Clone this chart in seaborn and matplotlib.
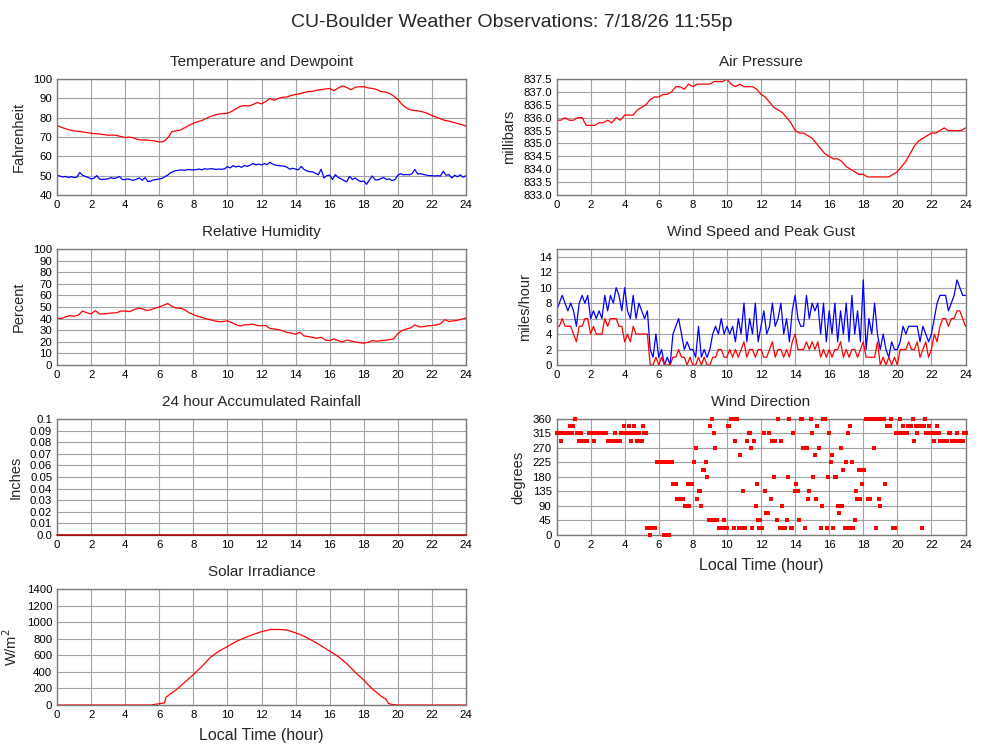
import numpy as np
import matplotlib
matplotlib.use("Agg")
import matplotlib.pyplot as plt
import seaborn as sns

# ---------------- data ----------------
hours_15 = np.linspace(0, 24, 97)    # 15-minute samples
hours_10 = np.linspace(0, 24, 145)   # 10-minute samples

temperature = [
    76.0, 75.0, 74.3, 73.6, 73.1, 73.0, 72.6, 72.3, 71.9, 71.7, 71.5, 71.2,
    70.9, 71.0, 70.8, 70.2, 69.7, 69.9, 69.5, 68.6, 68.4, 68.4, 68.2, 67.9,
    67.4, 67.6, 69.5, 72.8, 73.2, 73.6, 74.8, 76.0, 77.1, 77.9, 78.5, 79.6,
    80.6, 81.3, 81.9, 82.0, 82.3, 83.2, 84.6, 85.8, 86.2, 86.0, 86.8, 87.8,
    87.1, 88.3, 89.9, 89.0, 90.0, 90.5, 90.7, 91.5, 92.0, 92.3, 93.0, 93.5,
    93.6, 94.2, 94.5, 94.8, 95.1, 94.0, 95.3, 96.4, 95.6, 94.4, 95.7, 96.0,
    96.0, 95.4, 95.1, 94.6, 93.5, 93.3, 92.6, 91.2, 89.4, 86.8, 85.0, 84.0,
    83.7, 83.4, 82.9, 82.1, 81.1, 80.3, 79.4, 78.6, 78.2, 77.6, 77.0, 76.4,
    75.6]

dewpoint = [
    50.3, 49.8, 49.3, 49.6, 49.0, 49.5,
    49.0, 49.2, 51.6, 50.2, 49.6, 49.0,
    48.3, 48.6, 50.0, 48.2, 48.0, 48.2,
    48.3, 49.0, 48.5, 48.9, 49.5, 48.0,
    48.0, 48.3, 47.8, 47.6, 48.2, 48.8,
    47.6, 49.0, 47.0, 47.2, 47.8, 48.0,
    48.3, 48.6, 49.5, 50.3, 51.5, 52.2,
    52.6, 52.8, 53.0, 52.7, 53.2, 53.0,
    53.0, 53.1, 53.4, 53.0, 53.6, 53.3,
    53.6, 53.5, 53.2, 53.4, 53.3, 53.5,
    54.7, 54.0, 55.2, 54.5, 54.9, 54.3,
    55.2, 54.8, 55.4, 56.3, 55.6, 56.0,
    55.5, 56.2, 55.7, 56.9, 55.9, 55.4,
    55.2, 55.0, 54.9, 54.3, 53.3, 53.8,
    53.4, 53.0, 54.8, 53.2, 52.4, 52.0,
    52.0, 51.2, 50.5, 53.3, 48.8, 50.0,
    50.3, 48.0, 50.5, 49.0, 48.4, 47.5,
    46.8, 49.6, 48.0, 48.8, 47.6, 47.0,
    47.2, 45.5, 47.8, 49.8, 47.8, 47.8,
    48.5, 49.0, 48.0, 48.3, 47.4, 48.0,
    50.2, 51.0, 50.4, 50.6, 50.4, 51.0,
    53.2, 50.8, 51.0, 50.6, 50.3, 50.0,
    50.0, 49.8, 50.0, 49.8, 52.2, 50.2,
    50.5, 48.8, 50.2, 49.4, 50.4, 49.2,
    50.0]

pressure = [
    835.9, 835.9, 836.0, 835.9, 835.9, 836.0, 836.0, 835.7, 835.7, 835.7,
    835.8, 835.8, 835.9, 835.8, 836.0, 835.9, 836.1, 836.1, 836.1, 836.3,
    836.4, 836.5, 836.7, 836.8, 836.8, 836.9, 836.9, 837.0, 837.2, 837.2,
    837.1, 837.3, 837.2, 837.3, 837.3, 837.3, 837.3, 837.4, 837.4, 837.4,
    837.5, 837.3, 837.2, 837.3, 837.2, 837.2, 837.2, 837.1, 836.9, 836.8,
    836.6, 836.4, 836.3, 836.2, 836.0, 835.8, 835.5, 835.4, 835.4, 835.3,
    835.2, 835.0, 834.8, 834.6, 834.5, 834.4, 834.4, 834.3, 834.1, 834.0,
    833.9, 833.8, 833.8, 833.7, 833.7, 833.7, 833.7, 833.7, 833.7, 833.8,
    833.9, 834.1, 834.3, 834.6, 834.9, 835.1, 835.2, 835.3, 835.4, 835.4,
    835.5, 835.6, 835.5, 835.5, 835.5, 835.5, 835.6]

humidity = [
    40.3, 40.0, 41.5, 42.5, 42.0, 43.0, 46.5, 45.0, 44.0, 46.8, 44.0, 44.0,
    44.5, 44.8, 45.0, 46.5, 46.5, 46.0, 47.5, 49.0, 48.5, 47.0, 47.5, 49.0,
    50.0, 51.5, 53.0, 50.5, 49.0, 49.0, 47.5, 45.0, 43.5, 42.0, 41.0, 39.8,
    39.0, 38.0, 37.3, 37.5, 38.0, 36.5, 34.8, 33.5, 34.6, 34.8, 35.2, 34.0,
    33.8, 34.0, 31.5, 31.0, 30.5, 29.5, 28.0, 27.5, 26.5, 28.2, 25.0, 24.5,
    23.8, 23.0, 24.0, 21.5, 21.0, 22.5, 21.0, 19.8, 21.5, 20.8, 19.8, 19.2,
    18.8, 19.5, 21.0, 20.5, 21.0, 21.3, 21.8, 22.5, 27.0, 29.8, 31.0, 32.0,
    34.5, 32.8, 33.0, 33.8, 34.0, 34.5, 35.5, 39.0, 37.5, 38.0, 38.5, 39.5,
    40.5]

wind_gust = [
    7, 8, 9, 8, 7, 8, 7, 5, 8, 9, 8, 9,
    6, 7, 6, 7, 6, 9, 7, 9, 8, 10, 9, 7,
    10, 7, 6, 9, 6, 8, 7, 6, 7, 2, 1, 4,
    1, 2, 0, 1, 0, 4, 5, 6, 4, 2, 3, 2,
    2, 1, 5, 1, 2, 1, 2, 4, 5, 4, 6, 4,
    5, 4, 5, 3, 6, 4, 8, 3, 6, 4, 8, 3,
    5, 7, 4, 5, 8, 5, 6, 8, 4, 6, 3, 7,
    9, 6, 5, 5, 9, 6, 8, 7, 8, 4, 8, 3,
    7, 4, 8, 3, 7, 4, 8, 3, 9, 4, 7, 3,
    11, 2, 6, 4, 8, 4, 2, 4, 2, 1, 3, 2,
    2, 3, 5, 4, 5, 5, 5, 5, 3, 5, 4, 3,
    4, 6, 8, 9, 9, 9, 7, 8, 9, 11, 10, 9,
    9]

wind_speed = [
    5, 5, 6, 5, 5, 5, 4, 3, 5, 5, 6, 6,
    4, 5, 4, 4, 4, 6, 5, 6, 6, 6, 5, 5,
    3, 4, 3, 5, 4, 4, 4, 4, 4, 0, 0, 1,
    0, 1, 0, 0, 0, 1, 1, 2, 1, 1, 0, 1,
    0, 0, 1, 0, 1, 0, 0, 1, 1, 2, 2, 1,
    1, 2, 1, 2, 1, 2, 3, 1, 2, 2, 1, 2,
    2, 1, 1, 2, 3, 1, 2, 2, 1, 2, 1, 3,
    4, 2, 2, 2, 3, 2, 3, 2, 3, 1, 2, 1,
    2, 1, 2, 2, 3, 1, 2, 1, 2, 2, 1, 2,
    3, 1, 1, 1, 1, 3, 0, 1, 0, 1, 0, 1,
    0, 2, 2, 2, 3, 2, 2, 3, 1, 2, 3, 1,
    2, 4, 3, 5, 6, 6, 5, 6, 6, 7, 7, 6,
    5]

rain_hours = [0, 6, 12, 18, 24]
rain_inches = [0.0, 0.0, 0.0, 0.0, 0.0]

solar_hours = [0, 5.5, 6.0, 6.3, 6.4, 7.0, 7.5, 8.0, 8.5, 9.0, 9.5, 10.0,
               10.5, 11.0, 11.5, 12.0, 12.5, 13.0, 13.5, 14.0, 14.5, 15.0,
               15.5, 16.0, 16.5, 17.0, 17.5, 18.0, 18.5, 19.0, 19.3, 19.45,
               19.6, 20.0, 24.0]
solar_wm2 = [0, 0, 15, 25, 95, 185, 275, 365, 465, 575, 650, 705,
             765, 810, 850, 885, 910, 912, 905, 870, 830, 775,
             715, 650, 585, 500, 395, 300, 195, 110, 70, 20,
             8, 0, 0]

wdir_hours = [
    0.0, 0.08, 0.17, 0.27, 0.35, 0.45, 0.55, 0.65, 0.72, 0.82, 0.9, 0.98,
    1.1, 1.2, 1.3, 1.38, 1.45, 1.52, 1.6, 1.7, 1.8, 1.88, 1.97, 2.05, 2.13,
    2.22, 2.3, 2.4, 2.5, 2.6, 2.7, 2.8, 2.9, 3.0, 3.08, 3.17, 3.25, 3.35,
    3.46, 3.55, 3.63, 3.72, 3.8, 3.88, 3.95, 4.05, 4.12, 4.2, 4.28, 4.35,
    4.45, 4.52, 4.6, 4.7, 4.78, 4.85, 4.92, 5.0, 5.08, 5.15, 5.23, 5.32,
    5.4, 5.48, 5.55, 5.63, 5.72, 5.8, 5.9, 5.98, 6.07, 6.15, 6.23, 6.3,
    6.38, 6.45, 6.52, 6.6, 6.68, 6.75, 6.85, 6.93, 7.0, 7.1, 7.18, 7.27,
    7.35, 7.45, 7.53, 7.6, 7.7, 7.8, 7.87, 7.95, 8.06, 8.16, 8.25, 8.35,
    8.42, 8.5, 8.57, 8.65, 8.75, 8.85, 8.95, 9.02, 9.1, 9.2, 9.26, 9.33,
    9.43, 9.53, 9.6, 9.68, 9.75, 9.82, 9.92, 10.0, 10.07, 10.15, 10.25,
    10.33, 10.42, 10.5, 10.57, 10.7, 10.76, 10.85, 10.92, 11.0, 11.08,
    11.17, 11.27, 11.35, 11.43, 11.5, 11.6, 11.68, 11.75, 11.83, 11.9,
    11.97, 12.05, 12.17, 12.23, 12.3, 12.4, 12.45, 12.56, 12.66, 12.76,
    12.83, 12.92, 13.0, 13.1, 13.18, 13.25, 13.35, 13.43, 13.5, 13.58,
    13.66, 13.75, 13.83, 13.9, 13.97, 14.05, 14.1, 14.19, 14.25, 14.33,
    14.42, 14.48, 14.56, 14.68, 14.76, 14.83, 14.91, 15.0, 15.07, 15.15,
    15.22, 15.3, 15.4, 15.5, 15.58, 15.66, 15.73, 15.85, 15.93, 16.0,
    16.1, 16.18, 16.25, 16.32, 16.4, 16.5, 16.56, 16.6, 16.67, 16.74,
    16.83, 16.9, 16.99, 17.1, 17.16, 17.22, 17.32, 17.42, 17.5, 17.57,
    17.65, 17.73, 17.8, 17.88, 17.95, 18.03, 18.14, 18.22, 18.3, 18.38,
    18.47, 18.55, 18.63, 18.73, 18.8, 18.9, 18.98, 19.05, 19.13, 19.22,
    19.3, 19.4, 19.48, 19.55, 19.65, 19.72, 19.8, 19.88, 19.95, 20.03,
    20.1, 20.15, 20.25, 20.33, 20.4, 20.48, 20.56, 20.64, 20.72, 20.8,
    20.9, 20.98, 21.08, 21.17, 21.25, 21.33, 21.4, 21.47, 21.55, 21.6,
    21.68, 21.76, 21.86, 21.95, 22.05, 22.15, 22.22, 22.3, 22.38, 22.45,
    22.52, 22.6, 22.68, 22.76, 22.85, 22.93, 23.02, 23.1, 23.18, 23.26,
    23.35, 23.42, 23.5, 23.58, 23.66, 23.75, 23.83, 23.92, 24.0]
wdir_deg = [
    315, 315, 315, 292.5, 315, 315, 315, 315, 315, 337.5, 315, 337.5,
    360, 315, 292.5, 292.5, 315, 292.5, 292.5, 292.5, 292.5, 315, 315, 315, 315,
    292.5, 315, 315, 315, 315, 315, 315, 315, 292.5, 292.5, 292.5, 292.5, 292.5,
    315, 292.5, 292.5, 292.5, 315, 315, 337.5, 315, 315, 315, 337.5, 292.5,
    315, 337.5, 315, 292.5, 292.5, 315, 292.5, 292.5, 337.5, 315, 315, 22.5,
    22.5, 0, 22.5, 22.5, 22.5, 22.5, 225, 225, 225, 225, 225, 0,
    225, 0, 225, 0, 225, 225, 157.5, 157.5, 157.5, 112.5, 112.5, 112.5,
    112.5, 112.5, 90, 90, 157.5, 90, 157.5, 157.5, 225, 270, 112.5, 135,
    135, 90, 202.5, 202.5, 225, 180, 45, 337.5, 360, 45, 315, 270,
    45, 22.5, 22.5, 22.5, 22.5, 45, 22.5, 22.5, 337.5, 337.5, 360,
    360, 22.5, 292.5, 360, 22.5, 247.5, 22.5, 135, 22.5, 22.5,
    292.5, 315, 315, 270, 22.5, 292.5, 90, 157.5, 45, 22.5,
    45, 22.5, 315, 135, 67.5, 67.5, 315, 112.5, 292.5, 180,
    292.5, 45, 360, 22.5, 292.5, 90, 22.5, 22.5, 45, 180,
    360, 22.5, 22.5, 315, 135, 157.5, 135, 135, 45, 360,
    360, 270, 22.5, 270, 112.5, 135, 360, 315, 180, 247.5,
    112.5, 337.5, 270, 22.5, 90, 360, 360, 22.5, 180, 315,
    225, 247.5, 22.5, 180, 180, 90, 90, 67.5, 270, 90,
    202.5, 22.5, 225, 315, 22.5, 337.5, 225, 22.5, 45, 135,
    112.5, 202.5, 112.5, 202.5, 157.5, 202.5, 360, 360, 112.5, 112.5,
    360, 360, 270, 22.5, 360, 112.5, 90, 360, 360, 360,
    157.5, 337.5, 337.5, 337.5, 360, 22.5, 22.5, 22.5, 315, 315,
    315, 360, 315, 337.5, 315, 315, 315, 337.5, 337.5, 337.5,
    360, 292.5, 337.5, 315, 337.5, 337.5, 337.5, 22.5, 337.5, 360,
    315, 315, 337.5, 315, 315, 292.5, 315, 337.5, 315, 315,
    292.5, 292.5, 292.5, 292.5, 292.5, 292.5, 315, 315, 292.5, 292.5,
    292.5, 292.5, 315, 292.5, 292.5, 292.5, 292.5, 315, 315]

hour_ticks = list(range(0, 25, 2))

# ---------------- styling ----------------
sns.set_theme(style="white")
plt.rcParams["font.family"] = ["Liberation Sans", "DejaVu Sans"]

RED = "#ff0000"
BLUE = "#0000ff"
GRID = "#a3a3a3"
SPINE = "#7a7a7a"

fig = plt.figure(figsize=(10, 7.45), dpi=100)

LEFT_X, RIGHT_X, W, H = 0.057, 0.5565, 0.409, 0.1557
BOTTOMS = [0.7383, 0.5101, 0.2819, 0.0537]


def make_ax(col, row):
    x0 = LEFT_X if col == 0 else RIGHT_X
    return fig.add_axes([x0, BOTTOMS[row], W, H])


def style(ax, title, ylabel, ylim, yticks, ylabels=None, xlabel=None):
    ax.set_xlim(0, 24)
    ax.set_xticks(hour_ticks)
    ax.set_xticklabels([str(h) for h in hour_ticks])
    ax.set_ylim(*ylim)
    ax.set_yticks(yticks)
    if ylabels is not None:
        ax.set_yticklabels(ylabels)
    ax.grid(True, color=GRID, lw=0.8)
    ax.set_axisbelow(True)
    ax.tick_params(length=0, pad=3.5, labelsize=8.2, colors="black")
    for s in ax.spines.values():
        s.set_color(SPINE)
        s.set_linewidth(1.0)
        s.set_visible(True)
    ax.set_title(title, fontsize=11, pad=9.5)
    ax.set_ylabel(ylabel, fontsize=10.5, labelpad=5)
    ax.set_xlabel(xlabel if xlabel else "", fontsize=11.5, labelpad=6)


LW = 0.9

# Temperature and Dewpoint
ax = make_ax(0, 0)
sns.lineplot(x=hours_15, y=temperature, ax=ax, color=RED, lw=LW, estimator=None)
sns.lineplot(x=hours_10, y=dewpoint, ax=ax, color=BLUE, lw=LW, estimator=None)
style(ax, "Temperature and Dewpoint", "Fahrenheit", (40, 100), list(range(40, 101, 10)))

# Air Pressure
ax = make_ax(1, 0)
sns.lineplot(x=hours_15, y=pressure, ax=ax, color=RED, lw=LW, estimator=None)
pt = [833.0 + 0.5 * i for i in range(10)]
style(ax, "Air Pressure", "millibars", (833.0, 837.5), pt, [f"{v:.1f}" for v in pt])

# Relative Humidity
ax = make_ax(0, 1)
sns.lineplot(x=hours_15, y=humidity, ax=ax, color=RED, lw=LW, estimator=None)
style(ax, "Relative Humidity", "Percent", (0, 100), list(range(0, 101, 10)))

# Wind speed and gust
ax = make_ax(1, 1)
sns.lineplot(x=hours_10, y=wind_gust, ax=ax, color=BLUE, lw=LW, estimator=None)
sns.lineplot(x=hours_10, y=wind_speed, ax=ax, color=RED, lw=LW, estimator=None)
style(ax, "Wind Speed and Peak Gust", "miles/hour", (0, 15), list(range(0, 15, 2)))

# Rainfall
ax = make_ax(0, 2)
sns.lineplot(x=rain_hours, y=rain_inches, ax=ax, color="#b00000", lw=1.2,
             estimator=None, clip_on=False, zorder=3)
rt = [round(0.01 * i, 2) for i in range(11)]
rl = ["0.0"] + [f"{v:.2f}" for v in rt[1:10]] + ["0.1"]
style(ax, "24 hour Accumulated Rainfall", "Inches", (0, 0.1), rt, rl)

# Wind Direction
ax = make_ax(1, 2)
sns.scatterplot(x=wdir_hours, y=wdir_deg, ax=ax, color=RED, marker="s", s=5,
                linewidth=0, clip_on=False, zorder=3)
style(ax, "Wind Direction", "degrees", (0, 360), list(range(0, 361, 45)),
      xlabel="Local Time (hour)")

# Solar Irradiance
ax = make_ax(0, 3)
sns.lineplot(x=solar_hours, y=solar_wm2, ax=ax, color=RED, lw=LW, estimator=None)
style(ax, "Solar Irradiance", "W/m$^2$", (0, 1400), list(range(0, 1401, 200)),
      xlabel="Local Time (hour)")

fig.text(0.5115, 0.9642, "CU-Boulder Weather Observations: 7/18/26 11:55p",
         ha="center", va="baseline", fontsize=14)

fig.savefig("out.png", dpi=100)
